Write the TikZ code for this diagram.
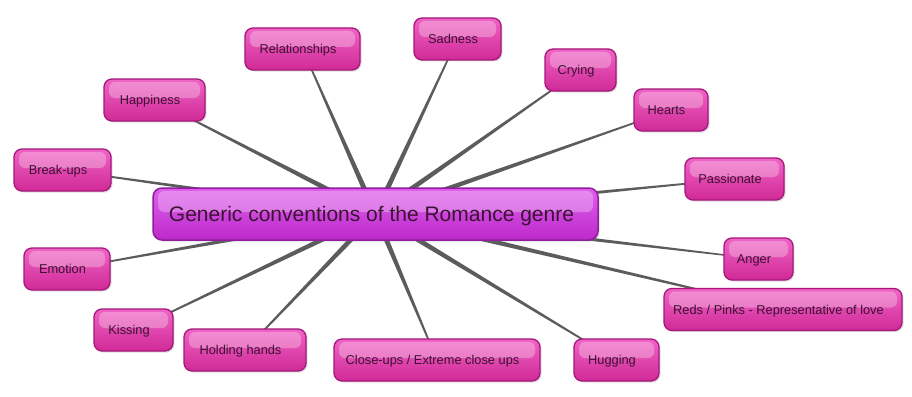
\documentclass[tikz,border=0pt]{standalone}
\usepackage{fontspec}
\setmainfont{Liberation Sans}
\usetikzlibrary{calc,shadows}
\definecolor{leafTop}{HTML}{F064C6}
\definecolor{leafBot}{HTML}{D02A96}
\definecolor{leafBorder}{HTML}{A5177A}
\definecolor{hubTop}{HTML}{E05FEE}
\definecolor{hubBot}{HTML}{BC2ACA}
\definecolor{hubBorder}{HTML}{8E1E9C}
\definecolor{linkGray}{HTML}{5C5C5C}
\definecolor{txtDark}{HTML}{3A1232}
\tikzset{
  gloss/.style={path picture={
      \fill[white,opacity=0.28,rounded corners=6pt]
        ($(path picture bounding box.north west)+(5pt,-3pt)$) rectangle
        ($(path picture bounding box.east)+(-5pt,2pt)$);}},
  leaf/.style={draw=leafBorder, line width=1.3pt, rounded corners=8pt,
      top color=leafTop, bottom color=leafBot, gloss,
      drop shadow={shadow xshift=1.5pt, shadow yshift=-1.5pt, opacity=0.25},
      minimum height=42pt, inner sep=0pt, text=txtDark,
      text height=9.3pt, text depth=0pt,
      execute at begin node={\hspace*{-9pt}},
      font=\fontsize{12.8}{15}\selectfont},
  hub/.style={draw=hubBorder, line width=1.5pt, rounded corners=9pt,
      top color=hubTop, bottom color=hubBot, gloss,
      drop shadow={shadow xshift=1.5pt, shadow yshift=-1.5pt, opacity=0.25},
      minimum width=445pt, minimum height=52pt, inner sep=0pt, text=txtDark,
      text height=15pt, text depth=0pt,
      execute at begin node={\hspace*{-8pt}},
      font=\fontsize{21}{24}\selectfont},
}
\newcommand{\taper}[2]{%
  \fill[linkGray] ($(#1)!2.8pt!90:(#2)$) -- ($(#2)!0.6pt!-90:(#1)$) --
    ($(#2)!0.6pt!90:(#1)$) -- ($(#1)!2.8pt!-90:(#2)$) -- cycle;}
\begin{document}
\begin{tikzpicture}[x=1pt,y=-1pt]
\useasboundingbox[fill=white] (0,0) rectangle (912,396);
\coordinate (c) at (375.5,214);
\path
  (302.5,49) coordinate (prel)
  (457.5,39) coordinate (psad)
  (580.5,70) coordinate (pcry)
  (671,110) coordinate (phea)
  (734.5,179) coordinate (ppas)
  (758.5,259) coordinate (pang)
  (783,309.5) coordinate (pred)
  (616.5,360) coordinate (phug)
  (437,360) coordinate (pclo)
  (245,350) coordinate (phol)
  (133.5,330) coordinate (pkis)
  (67,269) coordinate (pemo)
  (62.5,170) coordinate (pbre)
  (154.5,100) coordinate (phap);
\foreach \p in {prel,psad,pcry,phea,ppas,pang,pred,phug,pclo,phol,pkis,pemo,pbre,phap}
  {\taper{c}{\p}}
\node[leaf, minimum width=115pt] (rel) at (prel) {Relationships};
\node[leaf, minimum width=87pt]  (sad) at (psad) {Sadness};
\node[leaf, minimum width=71pt]  (cry) at (pcry) {Crying};
\node[leaf, minimum width=74pt]  (hea) at (phea) {Hearts};
\node[leaf, minimum width=99pt]  (pas) at (ppas) {Passionate};
\node[leaf, minimum width=69pt]  (ang) at (pang) {Anger};
\node[leaf, minimum width=238pt] (red) at (pred) {Reds / Pinks - Representative of love};
\node[leaf, minimum width=85pt]  (hug) at (phug) {Hugging};
\node[leaf, minimum width=206pt] (clo) at (pclo) {Close-ups / Extreme close ups};
\node[leaf, minimum width=122pt] (hol) at (phol) {Holding hands};
\node[leaf, minimum width=79pt]  (kis) at (pkis) {Kissing};
\node[leaf, minimum width=86pt]  (emo) at (pemo) {Emotion};
\node[leaf, minimum width=97pt]  (bre) at (pbre) {Break-ups};
\node[leaf, minimum width=101pt] (hap) at (phap) {Happiness};
\node[hub] (hubnode) at (c) {Generic conventions of the Romance genre};
\end{tikzpicture}
\end{document}
